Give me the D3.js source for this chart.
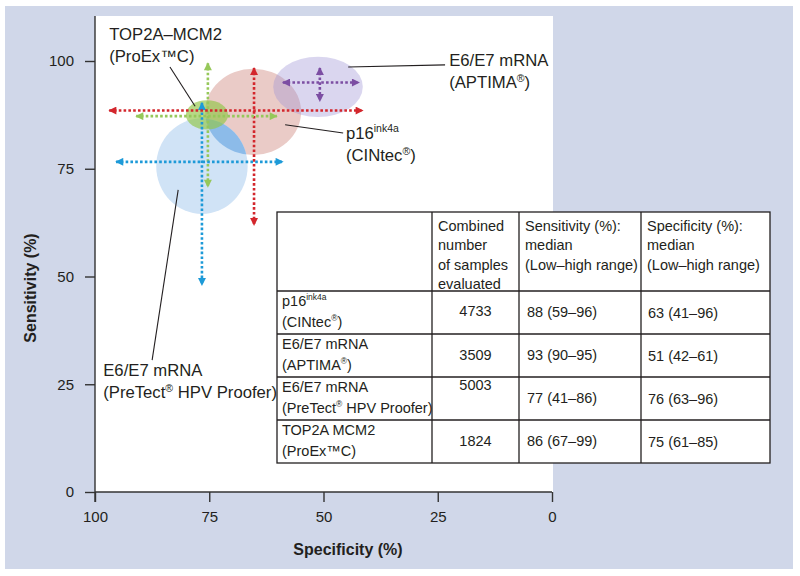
<!DOCTYPE html>
<html>
<head>
<meta charset="utf-8">
<script src="https://cdn.jsdelivr.net/npm/d3@7"></script>
<style>
  html, body { margin: 0; padding: 0; background: #ffffff; }
  svg { display: block; font-family: "Liberation Sans", Arial, Helvetica, sans-serif; }
</style>
</head>
<body>
<svg id="chart" width="800" height="576"></svg>
<script>
// ---------- DATA ----------
const tests = ["p16", "aptima", "pretect", "top2a"];
// table
const tableNames = [
  ["p16|ink4a", "(CINtec®)"],
  ["E6/E7 mRNA", "(APTIMA®)"],
  ["E6/E7 mRNA", "(PreTect® HPV Proofer)"],
  ["TOP2A MCM2", "(ProEx™C)"]
];
const sampleCounts = [4733, 3509, 5003, 1824];
const sensMedian = [88, 93, 77, 86];
const sensLow = [59, 90, 41, 67];
const sensHigh = [96, 95, 86, 99];
const specMedian = [63, 51, 76, 75];
const specLow = [41, 42, 63, 61];
const specHigh = [96, 61, 96, 85];
const headerCols = [
  [],
  ["Combined", "number", "of samples", "evaluated"],
  ["Sensitivity (%):", "median", "(Low–high range)"],
  ["Specificity (%):", "median", "(Low–high range)"]
];
// chart marks (specificity, sensitivity)
const ellCx = [65.4, 51.2, 76.6, 75.5];     // specificity centre
const ellCy = [88.2, 94.0, 75.6, 87.5];     // sensitivity centre
const ellRx = [10.5, 9.8, 10.0, 4.6];       // specificity units
const ellRy = [10.0, 7.0, 11.1, 3.4];       // sensitivity units
const hArrowSens = [88.5, 95.0, 76.6, 87.2];
const hArrowFrom = [96.9, 58.9, 95.4, 91.0];
const hArrowTo = [41.4, 42.2, 58.9, 60.2];
const vArrowSpec = [65.2, 50.8, 76.6, 75.3];
const vArrowFrom = [98.4, 98.4, 90.3, 99.5];
const vArrowTo = [61.9, 90.7, 48.0, 70.8];
const xTicks = [100, 75, 50, 25, 0];
const yTicks = [0, 25, 50, 75, 100];
// annotation labels: [spec, sens] for first line; leader lines [spec1,sens1,spec2,sens2]
const labelText = [
  ["p16|ink4a", "(CINtec®)"],
  ["E6/E7 mRNA", "(APTIMA®)"],
  ["E6/E7 mRNA", "(PreTect® HPV Proofer)"],
  ["TOP2A–MCM2", "(ProEx™C)"]
];
const labelPos = [[45.1, 81.9], [22.5, 98.8], [98.2, 26.9], [96.9, 104.9]];
const leaders = [
  [58.4, 85.2, 45.7, 83.3],
  [44.6, 98.6, 23.4, 99.1],
  [81.8, 70.1, 87.5, 30.6],
  [83.6, 98.6, 78.1, 89.5]
];

// ---------- STYLE ----------
const fills = ["#eacbc7", "rgba(158,146,212,0.38)", "#d0e3f6", "rgba(146,198,72,0.66)"];
const arrowColors = ["#d3262c", "#7c4ea3", "#1d9ad8", "#96c85a"];
const lensColor = "#8cbbe9";
const textColor = "#231f20";

const svg = d3.select("#chart");
// frame
svg.append("rect").attr("x", 5).attr("y", 6).attr("width", 788).attr("height", 563).attr("fill", "#d0d7e9");

const x = d3.scaleLinear().domain([100, 0]).range([95, 552]);
const y = d3.scaleLinear().domain([0, 100]).range([492, 61]);

// white plot panel
svg.append("rect").attr("x", x(100)).attr("y", 16).attr("width", x(0) - x(100) + 1).attr("height", y(0) - 16).attr("fill", "#ffffff");

const defs = svg.append("defs");
arrowColors.forEach((c, i) => {
  defs.append("marker").attr("id", "arr" + i)
    .attr("viewBox", "0 0 10 10").attr("refX", 9).attr("refY", 5)
    .attr("markerWidth", 9).attr("markerHeight", 8)
    .attr("markerUnits", "userSpaceOnUse").attr("orient", "auto-start-reverse")
    .append("path").attr("d", "M0,0 L10,5 L0,10 z").attr("fill", c);
});
// clip for lens (pretect ∩ p16)
defs.append("clipPath").attr("id", "clipP16")
  .append("ellipse")
  .attr("cx", x(ellCx[0])).attr("cy", y(ellCy[0]))
  .attr("rx", x(100 - ellRx[0]) - x(100)).attr("ry", y(0) - y(ellRy[0]));

const g = svg.append("g");
function ell(i, fill, clip) {
  const e = g.append("ellipse")
    .attr("cx", x(ellCx[i])).attr("cy", y(ellCy[i]))
    .attr("rx", x(100 - ellRx[i]) - x(100)).attr("ry", y(0) - y(ellRy[i]))
    .attr("fill", fill);
  if (clip) e.attr("clip-path", "url(#" + clip + ")");
}
ell(0, fills[0]);
ell(2, fills[2]);
ell(2, lensColor, "clipP16");
ell(1, fills[1]);
ell(3, fills[3]);

// arrows
const drawOrder = [0, 2, 3, 1];
drawOrder.forEach(i => {
  g.append("line")
    .attr("x1", x(vArrowSpec[i])).attr("x2", x(vArrowSpec[i]))
    .attr("y1", y(vArrowFrom[i])).attr("y2", y(vArrowTo[i]))
    .attr("stroke", arrowColors[i]).attr("stroke-width", 2.6)
    .attr("stroke-dasharray", "2.6,2.2")
    .attr("marker-start", "url(#arr" + i + ")").attr("marker-end", "url(#arr" + i + ")");
});
drawOrder.forEach(i => {
  g.append("line")
    .attr("x1", x(hArrowFrom[i])).attr("x2", x(hArrowTo[i]))
    .attr("y1", y(hArrowSens[i])).attr("y2", y(hArrowSens[i]))
    .attr("stroke", arrowColors[i]).attr("stroke-width", 2.6)
    .attr("stroke-dasharray", "2.6,2.2")
    .attr("marker-start", "url(#arr" + i + ")").attr("marker-end", "url(#arr" + i + ")");
});

// leader lines
leaders.forEach(l => {
  svg.append("line")
    .attr("x1", x(l[0])).attr("y1", y(l[1])).attr("x2", x(l[2])).attr("y2", y(l[3]))
    .attr("stroke", "#231f20").attr("stroke-width", 1.1);
});

// helper for text with superscripts: "base|sup" or ® marks
function richText(sel, str, fs, supFs) {
  if (str.includes("|")) {
    const [a, b] = str.split("|");
    sel.append("tspan").text(a);
    sel.append("tspan").attr("font-size", supFs).attr("dy", -fs * 0.42).text(b);
  } else if (str.includes("®")) {
    const parts = str.split("®");
    sel.append("tspan").text(parts[0]);
    sel.append("tspan").attr("font-size", supFs).attr("dy", -fs * 0.38).text("®");
    sel.append("tspan").attr("dy", fs * 0.38).text(parts[1]);
  } else {
    sel.text(str);
  }
}

// annotation labels
const afs = 16.7;
labelText.forEach((lines, i) => {
  const lx = x(labelPos[i][0]), ly = y(labelPos[i][1]);
  lines.forEach((s, k) => {
    const t = svg.append("text").attr("x", lx).attr("y", ly + k * 22)
      .attr("font-size", afs).attr("fill", textColor);
    richText(t, s, afs, 10.5);
  });
});

// axes
const yAxis = d3.axisLeft(y).tickValues(yTicks).tickSize(10).tickPadding(11).tickFormat(d3.format("d"));
const ya = svg.append("g").attr("transform", `translate(${x(100)},0)`).call(yAxis);
ya.select(".domain").remove();
ya.selectAll("text").attr("font-size", 15).attr("fill", textColor).attr("font-family", "Liberation Sans, Arial, sans-serif");
ya.selectAll("line").attr("stroke", "#333").attr("stroke-width", 1.4);
svg.append("line").attr("x1", x(100)).attr("x2", x(100)).attr("y1", 16).attr("y2", y(0) + 10)
  .attr("stroke", "#333").attr("stroke-width", 1.4);

const xAxis = d3.axisBottom(x).tickValues(xTicks).tickSize(10).tickPadding(9).tickFormat(d3.format("d"));
const xa = svg.append("g").attr("transform", `translate(0,${y(0)})`).call(xAxis);
xa.select(".domain").remove();
xa.selectAll("text").attr("font-size", 15).attr("fill", textColor).attr("font-family", "Liberation Sans, Arial, sans-serif");
xa.selectAll("line").attr("stroke", "#333").attr("stroke-width", 1.4);
svg.append("line").attr("x1", x(100)).attr("x2", x(0)).attr("y1", y(0)).attr("y2", y(0))
  .attr("stroke", "#333").attr("stroke-width", 1.4);

svg.append("text").attr("x", 348).attr("y", 555).attr("text-anchor", "middle")
  .attr("font-size", 16).attr("font-weight", "bold").attr("fill", textColor).text("Specificity (%)");
svg.append("text").attr("transform", "translate(36,288) rotate(-90)").attr("text-anchor", "middle")
  .attr("font-size", 16).attr("font-weight", "bold").attr("fill", textColor).text("Sensitivity (%)");

// ---------- TABLE ----------
const tX = [277, 432, 519, 641, 770];
const tY = [212, 291, 334, 377, 420, 463];
const tg = svg.append("g");
tg.append("rect").attr("x", tX[0]).attr("y", tY[0]).attr("width", tX[4] - tX[0]).attr("height", tY[5] - tY[0])
  .attr("fill", "#fff").attr("stroke", "#231f20").attr("stroke-width", 1.3);
tX.slice(1, 4).forEach(cx => tg.append("line").attr("x1", cx).attr("x2", cx).attr("y1", tY[0]).attr("y2", tY[5])
  .attr("stroke", "#231f20").attr("stroke-width", 1.3));
tY.slice(1, 5).forEach(cy => tg.append("line").attr("x1", tX[0]).attr("x2", tX[4]).attr("y1", cy).attr("y2", cy)
  .attr("stroke", "#231f20").attr("stroke-width", 1.3));
const tfs = 14.5;
headerCols.forEach((lines, c) => {
  lines.forEach((s, k) => {
    tg.append("text").attr("x", tX[c] + 6).attr("y", tY[0] + 19 + k * 19.3)
      .attr("font-size", tfs).attr("fill", textColor).text(s);
  });
});
const countDy = [25, 26, 13, 26];
tableNames.forEach((lines, r) => {
  const top = tY[r + 1];
  lines.forEach((s, k) => {
    const t = tg.append("text").attr("x", tX[0] + 5).attr("y", top + 15 + k * 20.5)
      .attr("font-size", tfs).attr("fill", textColor);
    richText(t, s, tfs, 8.5);
  });
  tg.append("text").attr("x", (tX[1] + tX[2]) / 2).attr("y", top + countDy[r]).attr("text-anchor", "middle")
    .attr("font-size", tfs).attr("fill", textColor).text(sampleCounts[r]);
  tg.append("text").attr("x", tX[2] + 8).attr("y", top + 26)
    .attr("font-size", tfs).attr("fill", textColor)
    .text(`${sensMedian[r]} (${sensLow[r]}–${sensHigh[r]})`);
  tg.append("text").attr("x", tX[3] + 7).attr("y", top + 27)
    .attr("font-size", tfs).attr("fill", textColor)
    .text(`${specMedian[r]} (${specLow[r]}–${specHigh[r]})`);
});
</script>
</body>
</html>
